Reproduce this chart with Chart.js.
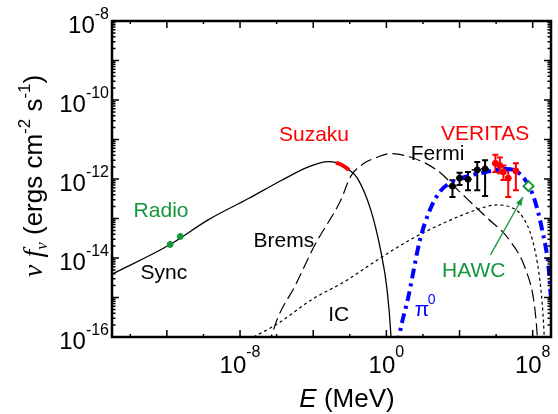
<!DOCTYPE html>
<html>
<head>
<meta charset="utf-8">
<script src="https://cdn.jsdelivr.net/npm/chart.js@4.4.1/dist/chart.umd.min.js"></script>
<style>
html, body { margin: 0; padding: 0; background: #fff; }
#wrap { width: 558px; height: 414px; }
</style>
</head>
<body>
<div id="wrap"><canvas id="myChart"></canvas></div>
<script>
// E in MeV, nu F_nu in ergs cm^-2 s^-1
var syncE = [1e-15, 1.5e-12, 2.0e-10, 2.9e-8, 1.9e-6, 5.1e-5, 6.3e-4, 1.8e-3, 9.3e-3, 2.6e-2, 0.14, 0.48, 1.1, 1.8, 2.1];
var syncF = [3.9e-15, 2.2e-14, 9.5e-14, 3.2e-13, 9.3e-13, 2.0e-12, 2.75e-12, 2.6e-12, 1.7e-12, 1.05e-12, 1.65e-13, 1.6e-14, 1.55e-15, 1.0e-16, 2e-17];

var bremsE = [3.5e-7, 1.2e-6, 9.8e-6, 1.2e-4, 3.2e-3, 1.1e-2, 6.0e-2, 0.21, 1.7, 20, 5.6e2, 1.0e4, 2.8e5, 5.2e6, 4.2e7, 1.2e8, 1.8e8, 2.1e8];
var bremsF = [6e-17, 3.2e-16, 1.9e-15, 2.1e-14, 2.9e-13, 1.15e-12, 2.5e-12, 3.3e-12, 4.4e-12, 3.6e-12, 1.7e-12, 4.8e-13, 1.1e-13, 2.9e-14, 5.0e-15, 7.1e-16, 1.0e-16, 2.6e-17];

var icE = [5.5e-8, 1.2e-6, 7.8e-5, 5.0e-3, 0.32, 20, 1.3e3, 8.1e4, 1.0e6, 5.2e6, 2.8e7, 9.6e7, 2.2e8, 3.3e8, 4.1e8, 4.5e8];
var icF = [1.0e-16, 2.2e-16, 8.7e-16, 2.5e-15, 8.9e-15, 2.9e-14, 7.6e-14, 1.65e-13, 2.2e-13, 2.0e-13, 1.1e-13, 2.9e-14, 4.1e-15, 7.1e-16, 1.5e-16, 4.7e-17];

var piE = [4.1, 5.8, 16, 69, 2.4e2, 8.5e2, 2.9e3, 2.3e4, 2.8e5, 3.4e6, 1.8e7, 9.6e7, 3.3e8, 7.6e8, 9.4e8, 1.35e9];
var piF = [6e-17, 1.5e-16, 1.05e-15, 2.9e-14, 1.65e-13, 4.8e-13, 7.8e-13, 1.15e-12, 1.5e-12, 1.8e-12, 1.4e-12, 4.3e-13, 5.1e-14, 5.0e-15, 1.3e-15, 2.7e-16];

var suzakuE = [1.8e-3, 4.1e-3, 9.3e-3];
var suzakuF = [2.6e-12, 2.2e-12, 1.7e-12];

var radioE = [1.5e-12, 5.4e-12];
var radioF = [2.2e-14, 3.5e-14];

var fermiE = [4.1e3, 1.0e4, 2.9e4, 9.3e4, 2.5e5];
var fermiF = [6.6e-13, 1.05e-12, 9.8e-13, 1.7e-12, 1.8e-12];
var fermiHi = [9.3e-13, 1.45e-12, 1.5e-12, 2.7e-12, 3.0e-12];
var fermiLo = [3.5e-13, 7.1e-13, 5.2e-13, 5.2e-13, 3.7e-13];
var fermiElo = [2.4e3, 6.8e3, 1.6e4, 4.6e4, 1.5e5];
var fermiEhi = [6.8e3, 1.6e4, 4.6e4, 1.5e5, 4.0e5];

var veritasE = [9.1e5, 1.6e6, 2.5e6, 4.6e6, 1.2e7];
var veritasF = [2.5e-12, 2.2e-12, 1.5e-12, 1.05e-12, 1.6e-12];
var veritasHi = [4.1e-12, 3.5e-12, 2.2e-12, 1.7e-12, 2.5e-12];
var veritasLo = [1.5e-12, 1.4e-12, 9.5e-13, 3.5e-13, 5.2e-13];
var veritasElo = [6.5e5, 1.3e6, 2.1e6, 3.9e6, 1.0e7];
var veritasEhi = [1.2e6, 2.0e6, 3.0e6, 5.4e6, 1.4e7];

var hawcE = [5.9e7];
var hawcF = [6.6e-13];

// axis ticks (powers of ten)
var xMajorExp = [-12, -8, -4, 0, 4, 8];
var xMinorExp = [-14, -10, -6, -2, 2, 6];
var xLabelExp = ['-8', '0', '8'];
var yMajorExp = [-16, -15, -14, -13, -12, -11, -10, -9, -8];
var yMinorMant = [2, 3, 4, 5, 6, 7, 8, 9];
var yLabelExp = ['-8', '-10', '-12', '-14', '-16'];

var green = '#14963c';
var red = '#ff0000';
var blue = '#0000ff';
var SANS = '"Liberation Sans", Arial, sans-serif';
var SERIF = '"Liberation Serif", "Times New Roman", serif';

var notes = [
    { text: 'Radio', E: 4.8e-13, F: 1.55e-13, color: green },
    { text: 'Sync', E: 6.9e-13, F: 4.2e-15, color: '#000' },
    { text: 'Brems', E: 2.5e-6, F: 2.6e-14, color: '#000' },
    { text: 'IC', E: 2.5e-3, F: 3.6e-16, color: '#000' },
    { text: 'Suzaku', E: 1.1e-4, F: 1.3e-11, color: red },
    { text: 'VERITAS', E: 2.5e5, F: 1.4e-11, color: red },
    { text: 'Fermi', E: 6.3e2, F: 4.3e-12, color: '#000' },
    { text: 'HAWC', E: 6.0e4, F: 4.5e-15, color: green }
];
var piNote = { E: 1.6e2, F: 5.4e-16 };
var arrowFrom = { E: 4.9e5, F: 1.2e-14 };
var arrowTo = { E: 2.9e7, F: 3.5e-13 };

function pts(xs, ys) {
    return xs.map(function (x, i) { return { x: x, y: ys[i] }; });
}

function curve(xs, ys, color, width, dash) {
    return {
        data: pts(xs, ys), showLine: true, borderColor: color, borderWidth: width,
        borderDash: dash, pointRadius: 0, cubicInterpolationMode: 'monotone', fill: false
    };
}

function markers(xs, ys, color) {
    return {
        data: pts(xs, ys), showLine: false, pointRadius: 3, pointBackgroundColor: color,
        pointBorderColor: color, pointBorderWidth: 1
    };
}

function supText(ctx, base, exp, x, y, baseSize, expSize, expRaise, align) {
    ctx.font = baseSize + 'px ' + SANS;
    var bw = ctx.measureText(base).width;
    ctx.font = expSize + 'px ' + SANS;
    var ew = ctx.measureText(exp).width;
    var x0 = align === 'right' ? x - bw - ew : x - (bw + ew) / 2;
    ctx.textAlign = 'left';
    ctx.textBaseline = 'alphabetic';
    ctx.font = baseSize + 'px ' + SANS;
    ctx.fillText(base, x0, y);
    ctx.font = expSize + 'px ' + SANS;
    ctx.fillText(exp, x0 + bw, y - expRaise);
}

// vertical and horizontal error bars, placed through the chart's scales
function errBars(ctx, xs, ys, E, F, lo, hi, elo, ehi, color) {
    ctx.strokeStyle = color;
    for (var i = 0; i < E.length; i++) {
        var px = xs.getPixelForValue(E[i]);
        var py = ys.getPixelForValue(F[i]);
        var yt = ys.getPixelForValue(hi[i]), yb = ys.getPixelForValue(lo[i]);
        ctx.lineWidth = 2;
        ctx.beginPath();
        ctx.moveTo(px, yt); ctx.lineTo(px, yb);
        ctx.moveTo(px - 3, yt); ctx.lineTo(px + 3, yt);
        ctx.moveTo(px - 3, yb); ctx.lineTo(px + 3, yb);
        ctx.stroke();
        ctx.lineWidth = 1.5;
        ctx.beginPath();
        ctx.moveTo(xs.getPixelForValue(elo[i]), py); ctx.lineTo(xs.getPixelForValue(ehi[i]), py);
        ctx.stroke();
    }
}

var decor = {
    id: 'decor',
    beforeDatasetsDraw: function (chart) {
        var ctx = chart.ctx, xs = chart.scales.x, ys = chart.scales.y;
        ctx.save();
        errBars(ctx, xs, ys, fermiE, fermiF, fermiLo, fermiHi, fermiElo, fermiEhi, '#000');
        errBars(ctx, xs, ys, veritasE, veritasF, veritasLo, veritasHi, veritasElo, veritasEhi, red);
        ctx.restore();
    },
    afterDraw: function (chart) {
        var ctx = chart.ctx, a = chart.chartArea, xs = chart.scales.x, ys = chart.scales.y;
        ctx.save();
        ctx.strokeStyle = '#000';
        ctx.lineWidth = 1.5;
        ctx.beginPath();
        xMajorExp.forEach(function (e) {
            var px = xs.getPixelForValue(Math.pow(10, e));
            ctx.moveTo(px, a.bottom); ctx.lineTo(px, a.bottom - 7);
            ctx.moveTo(px, a.top); ctx.lineTo(px, a.top + 7);
        });
        xMinorExp.forEach(function (e) {
            var px = xs.getPixelForValue(Math.pow(10, e));
            ctx.moveTo(px, a.bottom); ctx.lineTo(px, a.bottom - 3);
            ctx.moveTo(px, a.top); ctx.lineTo(px, a.top + 3);
        });
        yMajorExp.forEach(function (e) {
            var py = ys.getPixelForValue(Math.pow(10, e));
            ctx.moveTo(a.left, py); ctx.lineTo(a.left + 7, py);
            ctx.moveTo(a.right, py); ctx.lineTo(a.right - 7, py);
            if (e < -8) {
                yMinorMant.forEach(function (m) {
                    var pm = ys.getPixelForValue(m * Math.pow(10, e));
                    ctx.moveTo(a.left, pm); ctx.lineTo(a.left + 3.5, pm);
                    ctx.moveTo(a.right, pm); ctx.lineTo(a.right - 3.5, pm);
                });
            }
        });
        ctx.stroke();

        ctx.lineWidth = 2.5;
        ctx.strokeRect(a.left, a.top, a.right - a.left, a.bottom - a.top);

        // tick labels
        ctx.fillStyle = '#000';
        xLabelExp.forEach(function (e) {
            var px = xs.getPixelForValue(Math.pow(10, Number(e)));
            supText(ctx, '10', e, px, a.bottom + 36, 24, 16, 16, 'center');
        });
        yLabelExp.forEach(function (e) {
            var py = ys.getPixelForValue(Math.pow(10, Number(e)));
            supText(ctx, '10', e, a.left - 3, py + 12, 24, 16, 14, 'right');
        });

        // axis titles
        ctx.textAlign = 'left';
        ctx.textBaseline = 'alphabetic';
        ctx.font = 'italic 26px ' + SANS;
        var w1 = ctx.measureText('E').width;
        ctx.font = '26px ' + SANS;
        var w2 = ctx.measureText(' (MeV)').width;
        var cx = 347 - (w1 + w2) / 2;
        ctx.font = 'italic 26px ' + SANS;
        ctx.fillText('E', cx, 407);
        ctx.font = '26px ' + SANS;
        ctx.fillText(' (MeV)', cx + w1, 407);

        var runs = [
            { t: '\u03bd', f: 'italic 28px ' + SERIF, dy: 0 },
            { t: ' ', f: '26px ' + SANS, dy: 0 },
            { t: 'f', f: 'italic 28px ' + SERIF, dy: 0 },
            { t: '\u03bd', f: 'italic 17px ' + SERIF, dy: 5 },
            { t: ' (ergs cm', f: '26px ' + SANS, dy: 0 },
            { t: '-2', f: '17px ' + SANS, dy: -12 },
            { t: ' s', f: '26px ' + SANS, dy: 0 },
            { t: '-1', f: '17px ' + SANS, dy: -12 },
            { t: ')', f: '26px ' + SANS, dy: 0 }
        ];
        var total = 0;
        runs.forEach(function (r) { ctx.font = r.f; r.w = ctx.measureText(r.t).width; total += r.w; });
        ctx.save();
        ctx.translate(42, 176);
        ctx.rotate(-Math.PI / 2);
        var pos = -total / 2;
        runs.forEach(function (r) { ctx.font = r.f; ctx.fillText(r.t, pos, r.dy); pos += r.w; });
        ctx.restore();

        // annotations
        ctx.textAlign = 'center';
        ctx.textBaseline = 'middle';
        ctx.font = '21px ' + SANS;
        notes.forEach(function (n) {
            ctx.fillStyle = n.color;
            ctx.fillText(n.text, xs.getPixelForValue(n.E), ys.getPixelForValue(n.F));
        });
        ctx.fillStyle = blue;
        var pxp = xs.getPixelForValue(piNote.E), pyp = ys.getPixelForValue(piNote.F);
        ctx.textAlign = 'left';
        ctx.textBaseline = 'alphabetic';
        ctx.font = '21px ' + SANS;
        ctx.fillText('\u03c0', pxp - 12, pyp + 8);
        ctx.font = '14px ' + SANS;
        ctx.fillText('0', pxp + 1, pyp - 4);

        // arrow to HAWC
        var ax0 = xs.getPixelForValue(arrowFrom.E), ay0 = ys.getPixelForValue(arrowFrom.F);
        var ax1 = xs.getPixelForValue(arrowTo.E), ay1 = ys.getPixelForValue(arrowTo.F);
        var ang = Math.atan2(ay1 - ay0, ax1 - ax0);
        ctx.strokeStyle = green;
        ctx.fillStyle = green;
        ctx.lineWidth = 1.3;
        ctx.beginPath();
        ctx.moveTo(ax0, ay0); ctx.lineTo(ax1, ay1);
        ctx.stroke();
        ctx.beginPath();
        ctx.moveTo(ax1, ay1);
        ctx.lineTo(ax1 - 9 * Math.cos(ang - 0.35), ay1 - 9 * Math.sin(ang - 0.35));
        ctx.lineTo(ax1 - 9 * Math.cos(ang + 0.35), ay1 - 9 * Math.sin(ang + 0.35));
        ctx.closePath();
        ctx.fill();
        ctx.restore();
    }
};

var ctx = document.getElementById('myChart').getContext('2d');
var myChart = new Chart(ctx, {
    type: 'scatter',
    data: {
        // Chart.js paints the first dataset on top, so markers come first
        datasets: [
            {
                data: pts(hawcE, hawcF), showLine: false, pointStyle: 'rectRot', pointRadius: 5,
                pointBackgroundColor: '#fff', pointBorderColor: green, pointBorderWidth: 2
            },
            markers(veritasE, veritasF, red),
            markers(fermiE, fermiF, '#000'),
            markers(radioE, radioF, green),
            curve(suzakuE, suzakuF, red, 4, []),
            curve(piE, piF, blue, 4, [10, 5, 3, 5]),
            curve(syncE, syncF, '#000', 1.3, []),
            curve(bremsE, bremsF, '#000', 1.2, [12, 5]),
            curve(icE, icF, '#000', 1.2, [3, 3])
        ]
    },
    options: {
        responsive: true,
        maintainAspectRatio: false,
        animation: false,
        layout: { padding: { left: 112, right: 3, top: 21, bottom: 77 } },
        plugins: { legend: { display: false }, tooltip: { enabled: false } },
        scales: {
            x: { type: 'logarithmic', min: 1e-15, max: 1e9, display: false },
            y: { type: 'logarithmic', min: 1e-16, max: 1e-8, display: false }
        }
    },
    plugins: [decor]
});
</script>
</body>
</html>
